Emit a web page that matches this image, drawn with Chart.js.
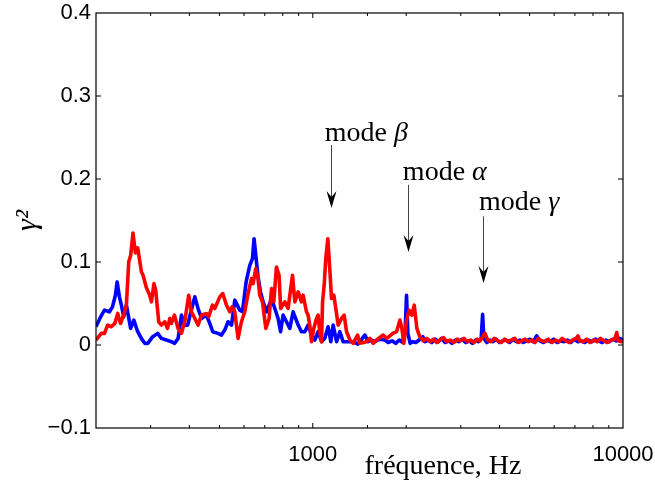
<!DOCTYPE html>
<html><head><meta charset="utf-8">
<script src="https://cdn.jsdelivr.net/npm/chart.js@4"></script>
<style>html,body{margin:0;padding:0;background:#fff}</style>
</head><body>
<canvas id="c" width="655" height="486"></canvas>
<script>
// ---- data ----
const blueFreq = [200,207,213,221,226,231,234,238,241.5,245.6,250.6,258.7,264.8,272.6,280,287.2,293.7,304.8,316.2,325,337.4,350,358.7,368,377.2,386.4,395,403.3,416.4,426.6,437.5,454,465.3,475.8,494.9,507.6,520,533,547,560.3,581.5,593.3,609.5,626.3,639,646.6,658.3,666,678,691.6,709.6,736,754.3,772.8,787,802,822.4,843,864,897,919,942,965.6,990,1015,1040,1067,1093,1120,1143,1163,1193,1222,1252,1297,1349,1397,1472,1508,1545,1585,1640,1708,1750,1800,1850,1900,1950,1985,2005,2025,2060,2100,2150,2200,2263,2300,2360,2420,2480,2540,2600,2670,2740,2810,2880,2950,3030,3110,3190,3270,3350,3420,3490,3527,3560,3640,3720,3810,3900,4000,4100,4200,4310,4420,4530,4650,4770,4890,5010,5140,5266,5400,5540,5680,5830,5980,6130,6290,6450,6620,6790,6970,7160,7340,7530,7730,7930,8140,8350,8570,8800,9030,9270,9520,9760,10000];
const blueVal = [0.022,0.034,0.042,0.040,0.046,0.060,0.076,0.058,0.048,0.034,0.048,0.020,0.030,0.016,0.008,0.002,0.002,0.010,0.014,0.008,0.006,0.004,0.002,0.008,0.036,0.024,0.024,0.038,0.058,0.044,0.032,0.036,0.026,0.016,0.014,0.012,0.018,0.028,0.024,0.054,0.042,0.040,0.076,0.096,0.104,0.128,0.100,0.082,0.064,0.052,0.040,0.056,0.044,0.032,0.016,0.036,0.028,0.020,0.040,0.024,0.016,0.016,0.024,0.012,0.006,0.016,0.004,0.008,0.022,0.004,0.024,0.004,0.016,0.004,0.004,0.004,0.001,0.012,0.004,0.006,0.004,0.007,0.006,0.003,0.005,0.002,0.006,0.003,0.018,0.060,0.014,0.002,0.004,0.003,0.006,0.010,0.004,0.006,0.003,0.007,0.004,0.008,0.003,0.005,0.002,0.006,0.004,0.007,0.003,0.005,0.002,0.006,0.004,0.008,0.037,0.008,0.003,0.006,0.004,0.007,0.003,0.005,0.006,0.003,0.007,0.004,0.006,0.003,0.005,0.007,0.004,0.011,0.005,0.003,0.006,0.004,0.007,0.003,0.005,0.004,0.006,0.003,0.007,0.004,0.005,0.003,0.006,0.004,0.007,0.005,0.003,0.006,0.004,0.007,0.005,0.008,0.006];
const redFreq = [200,204,208,213,218,224,230,235,240,245.6,250.6,255,258.7,263.2,267.9,272.6,280.2,283.6,290.8,298,301.8,307.6,311.5,318.6,325,333.2,340,346,350,358,367.8,377.2,386.4,398,406,416.4,426.6,437.5,454,461.8,474.8,483,501.2,512.5,526.8,539.9,549.2,560.3,574.2,588.8,603.4,618.5,634.3,641.8,654.8,666,674.5,688.2,705.4,722.8,736,748.4,763.5,778.4,787.7,812.2,832.3,860.1,875,897,919,930.3,954.3,965.6,977.9,990.4,1007,1028,1040,1053,1067,1075,1088,1101,1118,1134,1149,1169,1186,1207,1238,1262,1285,1317,1349,1394,1418,1490,1527,1565,1605,1686,1733,1811,1862,1909,1937,1966,2005,2045,2086,2123,2165,2212,2270,2330,2390,2450,2510,2570,2640,2700,2770,2850,2920,2990,3070,3150,3230,3310,3390,3460,3530,3590,3660,3750,3850,3950,4050,4150,4250,4360,4480,4590,4710,4830,4950,5080,5200,5330,5470,5610,5750,5900,6050,6210,6370,6540,6700,6880,7060,7161,7250,7440,7630,7830,8040,8250,8460,8680,8910,9150,9400,9547,9650,9880,10000];
const redVal = [0.006,0.010,0.014,0.014,0.024,0.022,0.026,0.038,0.026,0.036,0.048,0.100,0.108,0.135,0.111,0.117,0.088,0.084,0.069,0.060,0.052,0.074,0.066,0.028,0.024,0.028,0.020,0.032,0.026,0.036,0.020,0.014,0.028,0.060,0.040,0.032,0.024,0.036,0.038,0.034,0.048,0.044,0.058,0.062,0.048,0.040,0.046,0.040,0.008,0.028,0.040,0.062,0.080,0.074,0.092,0.080,0.060,0.052,0.020,0.032,0.068,0.052,0.094,0.084,0.044,0.052,0.044,0.084,0.052,0.064,0.052,0.060,0.040,0.036,0.024,0.004,0.020,0.032,0.036,0.016,0.004,0.052,0.072,0.104,0.128,0.092,0.056,0.060,0.044,0.024,0.032,0.036,0.016,0.006,0.002,0.012,0.002,0.004,0.008,0.002,0.006,0.012,0.008,0.014,0.016,0.030,0.020,0.002,0.030,0.042,0.036,0.048,0.020,0.010,0.005,0.008,0.004,0.007,0.003,0.006,0.009,0.004,0.006,0.003,0.007,0.005,0.008,0.004,0.006,0.003,0.007,0.005,0.010,0.014,0.006,0.004,0.008,0.005,0.003,0.007,0.004,0.006,0.008,0.003,0.005,0.007,0.004,0.006,0.003,0.008,0.005,0.004,0.007,0.003,0.006,0.004,0.008,0.005,0.003,0.006,0.008,0.011,0.005,0.004,0.007,0.003,0.006,0.004,0.008,0.005,0.003,0.006,0.007,0.015,0.005,0.004,0.006];

const xLabelValues = [1000, 10000];
const yTickStep = 0.1;
const xTitle = 'fréquence, Hz';
const yTitle = 'γ²';

// annotations: "mode" + greek letter, arrow pointing down to the peak
const annotGreek = ['β', 'α', 'γ'];
const annotArrowFreq = [1143, 2021, 3548];
const annotTextFreq = [1093, 1951, 3432];
const annotTextVal = [0.246, 0.199, 0.163];
const annotTailVal = [0.241, 0.193, 0.155];
const annotTipVal = [0.165, 0.112, 0.0747];

function pts(fs, vs) { return fs.map((f, i) => ({ x: f, y: vs[i] })); }

const framePlugin = {
  id: 'frame',
  afterDraw(chart) {
    const { ctx, chartArea: a, scales } = chart;
    const xs = scales.x, ys = scales.y;
    ctx.save();
    ctx.strokeStyle = '#000';
    ctx.lineWidth = 1.2;
    ctx.strokeRect(a.left, a.top, a.right - a.left, a.bottom - a.top);
    ctx.lineWidth = 1;
    ctx.beginPath();
    xs.ticks.forEach(t => {
      const px = xs.getPixelForValue(t.value);
      if (px <= a.left + 1 || px >= a.right - 1) return;
      const L = xLabelValues.includes(Math.round(t.value)) ? 5 : 3;
      ctx.moveTo(px, a.bottom); ctx.lineTo(px, a.bottom - L);
      ctx.moveTo(px, a.top); ctx.lineTo(px, a.top + L);
    });
    ys.ticks.forEach(t => {
      const py = ys.getPixelForValue(t.value);
      if (py <= a.top + 1 || py >= a.bottom - 1) return;
      ctx.moveTo(a.left, py); ctx.lineTo(a.left + 5, py);
      ctx.moveTo(a.right, py); ctx.lineTo(a.right - 5, py);
    });
    ctx.stroke();

    // x title
    ctx.fillStyle = '#000';
    ctx.font = '28px "Liberation Serif"';
    ctx.textBaseline = 'alphabetic';
    ctx.textAlign = 'center';
    ctx.fillText(xTitle, 443, 474);

    // annotations
    ctx.textAlign = 'left';
    annotGreek.forEach((g, i) => {
      const tx = xs.getPixelForValue(annotTextFreq[i]);
      const ty = ys.getPixelForValue(annotTextVal[i]);
      ctx.font = '28px "Liberation Serif"';
      const w = ctx.measureText('mode ').width;
      ctx.fillText('mode ', tx, ty);
      ctx.font = 'italic 28px "Liberation Serif"';
      ctx.fillText(g, tx + w, ty);
      const ax = Math.round(xs.getPixelForValue(annotArrowFreq[i])) + 0.5;
      const y0 = ys.getPixelForValue(annotTailVal[i]);
      const y1 = ys.getPixelForValue(annotTipVal[i]);
      ctx.strokeStyle = '#444';
      ctx.lineWidth = 1;
      ctx.beginPath(); ctx.moveTo(ax, y0); ctx.lineTo(ax, y1 - 8); ctx.stroke();
      ctx.fillStyle = '#000';
      ctx.beginPath();
      ctx.moveTo(ax, y1);
      ctx.lineTo(ax - 5, y1 - 17);
      ctx.lineTo(ax, y1 - 11);
      ctx.lineTo(ax + 5, y1 - 17);
      ctx.closePath();
      ctx.fill();
    });
    ctx.restore();
  }
};

new Chart(document.getElementById('c'), {
  type: 'line',
  data: {
    datasets: [
      { label: 'rouge', data: pts(redFreq, redVal), borderColor: '#ff0000', borderWidth: 3.6, pointRadius: 0, tension: 0, order: 0, borderJoinStyle: 'round' },
      { label: 'bleu', data: pts(blueFreq, blueVal), borderColor: '#0000ff', borderWidth: 3.6, pointRadius: 0, tension: 0, order: 1, borderJoinStyle: 'round' }
    ]
  },
  options: {
    responsive: false,
    devicePixelRatio: 1,
    animation: false,
    layout: { padding: { left: 0, right: 32, top: 13, bottom: 0 } },
    plugins: { legend: { display: false }, tooltip: { enabled: false } },
    scales: {
      x: {
        type: 'logarithmic', min: 200, max: 10000, position: 'bottom',
        grid: { display: false, drawTicks: false }, border: { display: false },
        ticks: {
          autoSkip: false, maxRotation: 0, minRotation: 0, padding: 14, color: '#000',
          font: { family: 'Liberation Sans', size: 22 },
          callback: v => xLabelValues.includes(Math.round(v)) ? String(Math.round(v)) : ''
        },
        afterFit: s => { s.height = 58; s.paddingLeft = 0; s.paddingRight = 0; }
      },
      y: {
        min: -0.1, max: 0.4,
        grid: { display: false, drawTicks: false }, border: { display: false },
        ticks: {
          stepSize: yTickStep, padding: 5, color: '#000',
          font: { family: 'Liberation Sans', size: 22 },
          callback: v => { const r = Math.round(v * 10) / 10; return r < 0 ? '−' + Math.abs(r) : String(r); }
        },
        title: { display: true, text: yTitle, color: '#000', font: { family: 'Liberation Serif', style: 'italic', size: 30 }, padding: { top: 10, bottom: 0 } },
        afterFit: s => { s.width = 96; s.paddingTop = 0; s.paddingBottom = 0; }
      }
    }
  },
  plugins: [framePlugin]
});
</script>
</body></html>
